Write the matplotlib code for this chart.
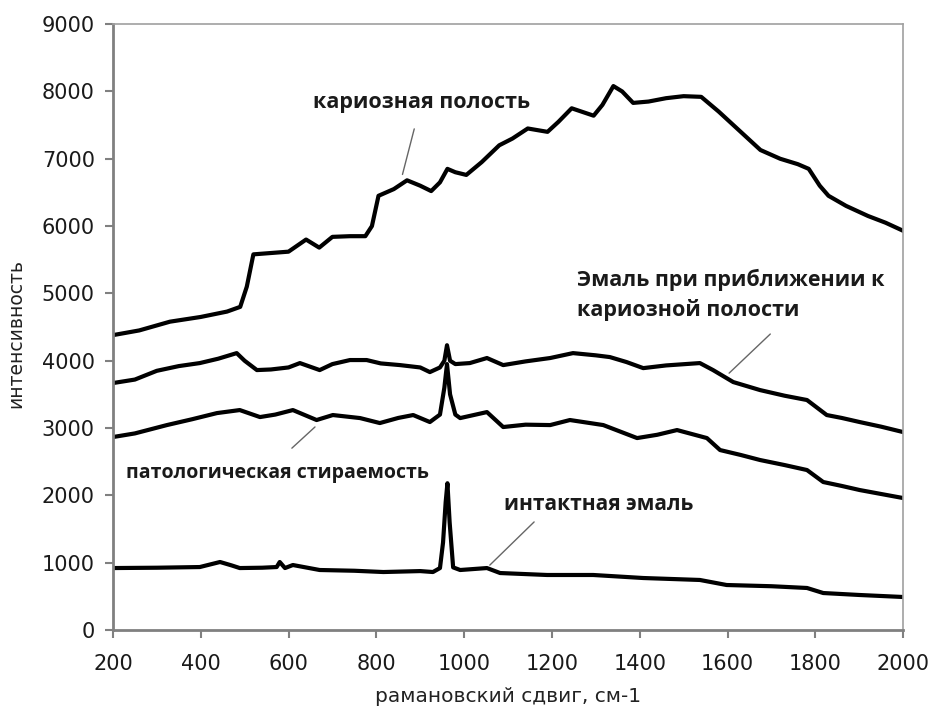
import matplotlib.pyplot as plt

# spectra
caries_x = [200, 260, 330, 400, 460, 490, 505, 520, 560, 600, 640, 670, 700, 740, 775, 790, 805, 840,
            870, 900, 925, 945, 962, 980, 1005, 1040, 1080, 1110, 1145, 1190, 1215, 1245, 1295, 1315,
            1340, 1360, 1385, 1420, 1460, 1500, 1540, 1580, 1630, 1675, 1720, 1760, 1785, 1810, 1830,
            1870, 1920, 1960, 2000]
caries_y = [4380, 4450, 4580, 4650, 4730, 4800, 5100, 5580, 5600, 5620, 5800, 5680, 5840, 5850, 5850,
            6000, 6450, 6550, 6680, 6600, 6520, 6650, 6850, 6800, 6760, 6950, 7200, 7300, 7450, 7400,
            7550, 7750, 7640, 7800, 8080, 8000, 7830, 7850, 7900, 7930, 7920, 7700, 7400, 7130, 7000,
            6920, 6850, 6600, 6450, 6300, 6150, 6050, 5930]

near_x = [200, 250, 300, 350, 398, 440, 482, 500, 528, 560, 600, 626, 671, 700, 740, 778, 810, 854,
          900, 922, 945, 955, 961, 968, 980, 1013, 1052, 1089, 1140, 1196, 1248, 1300, 1332, 1370,
          1408, 1460, 1537, 1567, 1613, 1674, 1730, 1781, 1826, 1860, 1901, 1950, 2000]
near_y = [3668, 3720, 3850, 3920, 3965, 4030, 4113, 4000, 3861, 3870, 3900, 3965, 3861, 3950, 4010,
          4010, 3960, 3935, 3900, 3831, 3900, 4000, 4230, 4000, 3950, 3965, 4040, 3935, 3990, 4040,
          4113, 4080, 4054, 3980, 3890, 3930, 3965, 3861, 3683, 3564, 3480, 3416, 3193, 3150, 3089,
          3020, 2940]

abrasion_x = [200, 250, 323, 380, 437, 489, 535, 570, 610, 664, 701, 763, 808, 850, 884, 922, 945, 955,
              961, 968, 980, 991, 1052, 1089, 1140, 1196, 1241, 1317, 1394, 1440, 1485, 1553, 1583,
              1630, 1674, 1730, 1781, 1818, 1860, 1901, 1950, 2000]
abrasion_y = [2866, 2920, 3044, 3130, 3222, 3267, 3163, 3200, 3267, 3119, 3193, 3148, 3074, 3150, 3193,
              3089, 3200, 3600, 3950, 3500, 3200, 3148, 3237, 3015, 3050, 3044, 3119, 3044, 2851, 2900,
              2970, 2851, 2673, 2600, 2525, 2450, 2376, 2198, 2140, 2079, 2020, 1960]

intact_x = [200, 300, 398, 444, 470, 489, 540, 573, 580, 592, 610, 671, 750, 816, 900, 929, 945, 952,
            958, 962, 967, 975, 991, 1052, 1082, 1189, 1294, 1408, 1537, 1598, 1700, 1781, 1818, 1900,
            2000]
intact_y = [920, 925, 935, 1010, 960, 920, 925, 935, 1010, 920, 965, 891, 880, 861, 875, 861, 920, 1300,
            1900, 2180, 1600, 930, 891, 920, 846, 817, 817, 772, 743, 668, 650, 624, 549, 520, 490]

x_ticks = [200, 400, 600, 800, 1000, 1200, 1400, 1600, 1800, 2000]
y_ticks = [0, 1000, 2000, 3000, 4000, 5000, 6000, 7000, 8000, 9000]

plt.rcParams['font.family'] = ['DejaVu Sans']

fig = plt.figure(figsize=(9.33, 7.10), dpi=100)
ax = fig.add_axes([0.121, 0.1127, 0.847, 0.8533])

for xs, ys in [(caries_x, caries_y), (near_x, near_y), (abrasion_x, abrasion_y), (intact_x, intact_y)]:
    ax.plot(xs, ys, color='black', linewidth=3.0, solid_joinstyle='round')

ax.set_xlim(200, 2000)
ax.set_ylim(0, 9000)
ax.set_xticks(x_ticks)
ax.set_yticks(y_ticks)
ax.tick_params(axis='both', labelsize=15, labelcolor='#1a1a1a', color='#808080',
               length=6, width=1.5, direction='out')
ax.tick_params(axis='x', pad=11)
ax.tick_params(axis='y', pad=7)

for side in ['left', 'bottom']:
    ax.spines[side].set_color('#808080')
    ax.spines[side].set_linewidth(2)
for side in ['top', 'right']:
    ax.spines[side].set_color('#a0a0a0')
    ax.spines[side].set_linewidth(1.2)

ax.set_xlabel('рамановский сдвиг, см-1', fontsize=14.5, color='#222222')
ax.set_ylabel('интенсивность', fontsize=13.5, color='#222222')
ax.xaxis.set_label_coords(0.5, -0.094)
ax.yaxis.set_label_coords(-0.111, 0.49)

label_font = dict(fontweight='bold', color='#1a1a1a', family=['Open Sans', 'DejaVu Sans'])
ax.text(902, 7841, 'кариозная полость', ha='center', va='center', fontsize=15.5, **label_font)
ax.text(1257, 4975, 'Эмаль при приближении к\nкариозной полости', ha='left', va='center',
        linespacing=1.45, fontsize=15.5, **label_font)
ax.text(574, 2331, 'патологическая стираемость', ha='center', va='center', fontsize=14, **label_font)
ax.text(1307, 1871, 'интактная эмаль', ha='center', va='center', fontsize=15, **label_font)

leader = dict(arrowstyle='-', color='#666666', linewidth=1)
ax.annotate('', xy=(858, 6727), xytext=(888, 7484), arrowprops=leader)
ax.annotate('', xy=(1599, 3787), xytext=(1702, 4425), arrowprops=leader)
ax.annotate('', xy=(665, 3044), xytext=(603, 2673), arrowprops=leader)
ax.annotate('', xy=(1054, 935), xytext=(1164, 1634), arrowprops=leader)

fig.savefig('out.png', dpi=100)
